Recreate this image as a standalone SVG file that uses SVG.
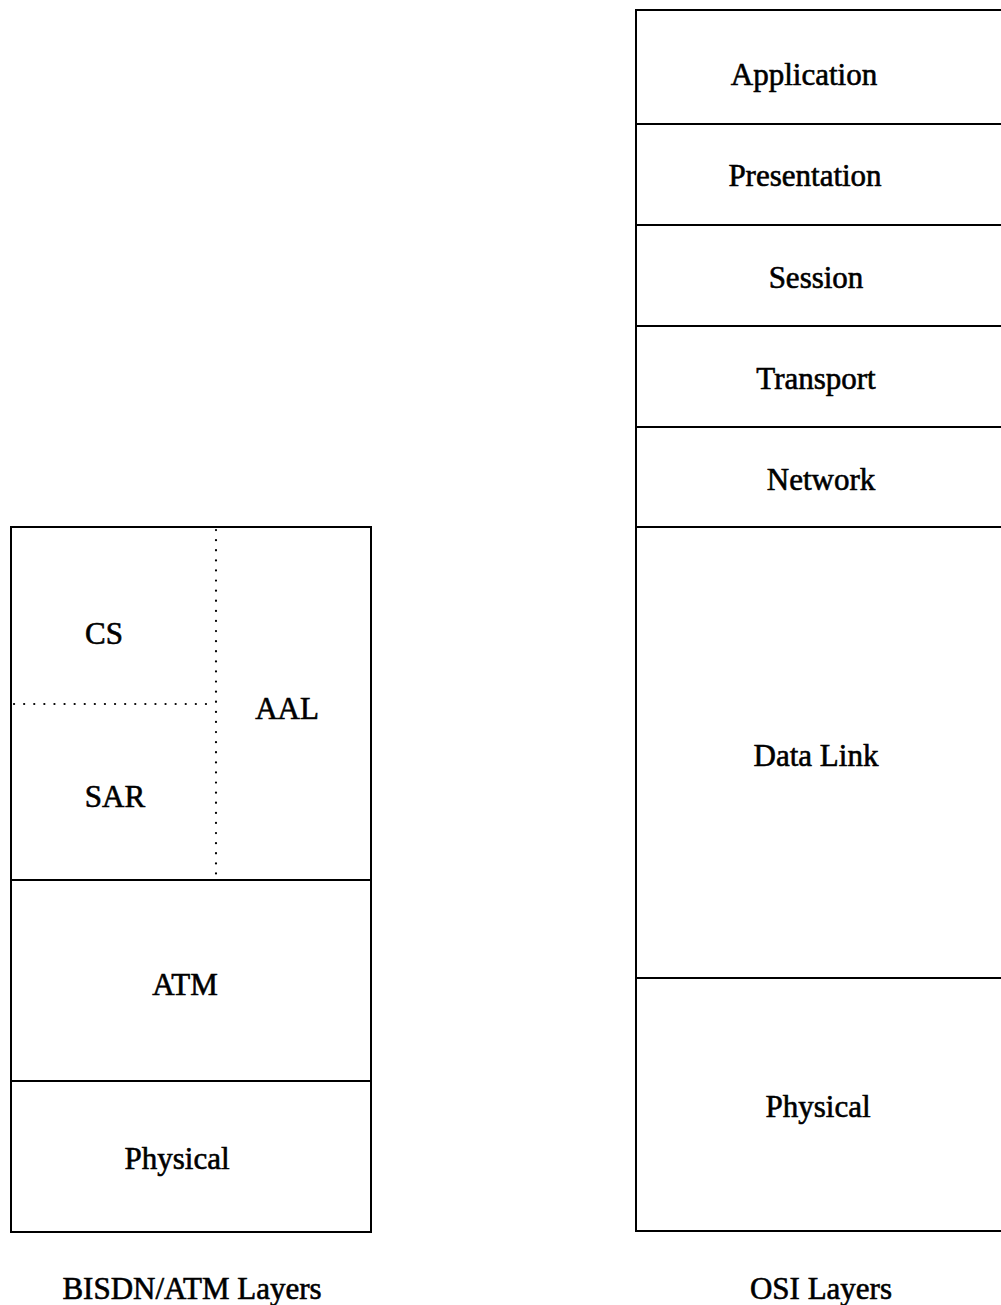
<svg xmlns="http://www.w3.org/2000/svg" width="1001" height="1305" viewBox="0 0 1001 1305">
  <style>
    .edge { stroke: #000; stroke-width: 2; fill: none; }
    .dot { stroke: #000; stroke-width: 2.2; stroke-dasharray: 0.1 10; stroke-linecap: round; fill: none; }
    .lbl { font-family: "Liberation Serif", "Times New Roman", serif; font-size: 31px; fill: #000; stroke: #000; stroke-width: 0.6; text-anchor: middle; }
  </style>
  <rect width="1001" height="1305" fill="#fff"/>

  <!-- BISDN/ATM stack -->
  <g id="atm-stack">
    <rect class="edge" x="11" y="527" width="360" height="705"/>
    <line class="edge" x1="11" y1="880" x2="371" y2="880"/>
    <line class="edge" x1="11" y1="1081" x2="371" y2="1081"/>
    <line class="dot" x1="216" y1="530" x2="216" y2="878"/>
    <line class="dot" x1="14" y1="704" x2="216" y2="704"/>
  </g>
  <g id="cs"><text class="lbl" x="104" y="644">CS</text></g>
  <g id="aal"><text class="lbl" x="287" y="719">AAL</text></g>
  <g id="sar"><text class="lbl" x="115" y="807">SAR</text></g>
  <g id="atm"><text class="lbl" x="185" y="995">ATM</text></g>
  <g id="atm-physical"><text class="lbl" x="177" y="1169">Physical</text></g>
  <g id="atm-caption"><text class="lbl" x="192" y="1299">BISDN/ATM Layers</text></g>

  <!-- OSI stack -->
  <g id="osi-stack">
    <polyline class="edge" points="1003,10 636,10 636,1231 1003,1231"/>
    <line class="edge" x1="636" y1="124" x2="1003" y2="124"/>
    <line class="edge" x1="636" y1="225" x2="1003" y2="225"/>
    <line class="edge" x1="636" y1="326" x2="1003" y2="326"/>
    <line class="edge" x1="636" y1="427" x2="1003" y2="427"/>
    <line class="edge" x1="636" y1="527" x2="1003" y2="527"/>
    <line class="edge" x1="636" y1="978" x2="1003" y2="978"/>
  </g>
  <g id="application"><text class="lbl" x="804" y="85">Application</text></g>
  <g id="presentation"><text class="lbl" x="805" y="186">Presentation</text></g>
  <g id="session"><text class="lbl" x="816" y="288">Session</text></g>
  <g id="transport"><text class="lbl" x="816" y="389">Transport</text></g>
  <g id="network"><text class="lbl" x="821" y="490">Network</text></g>
  <g id="data-link"><text class="lbl" x="816" y="766">Data Link</text></g>
  <g id="osi-physical"><text class="lbl" x="818" y="1117">Physical</text></g>
  <g id="osi-caption"><text class="lbl" x="821" y="1299">OSI Layers</text></g>

  <g id="connectors"></g>
</svg>
